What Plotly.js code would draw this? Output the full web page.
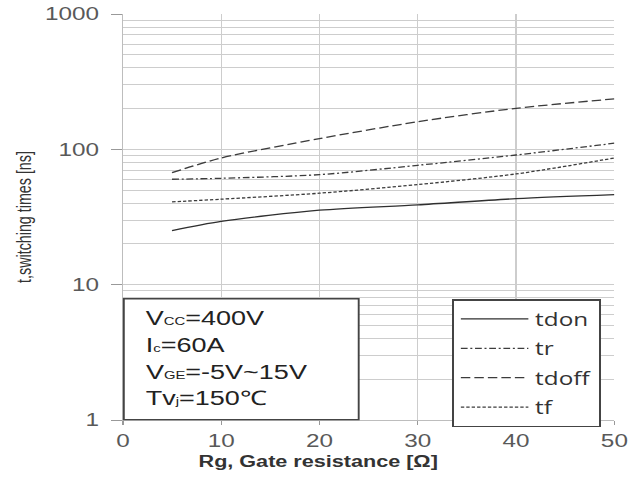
<!DOCTYPE html>
<html>
<head>
<meta charset="utf-8">
<script src="https://cdn.plot.ly/plotly-3.0.1.min.js"></script>
<style>
  html, body { margin: 0; padding: 0; background: #ffffff; }
  #wrap { width: 636px; height: 478px; overflow: hidden; position: relative; }
  /* the chart is laid out narrow and widened so the lettering comes out broad */
  #chart { width: 471px; height: 478px; transform: scaleX(1.3503); transform-origin: 0 0; }
</style>
</head>
<body>
<div id="wrap"><div id="chart"></div></div>
<script>
// Gate resistance [Ω]
const rg = [5, 10, 20, 30, 40, 50];
// switching times [ns]
const tdon  = [25.1, 29.3, 35.5, 38.9, 43.2, 46.3];
const tr    = [60.1, 61.1, 65.0, 76.2, 90.8, 111];
const tdoff = [67.2, 86.3, 120, 160, 201, 236];
const tf    = [40.9, 42.8, 47.4, 54.9, 65.8, 86.3];

const seriesNames = ['tdon', 'tr', 'tdoff', 'tf'];
const xTicks = [0, 10, 20, 30, 40, 50];
const yTicks = [1, 10, 100, 1000];
const yTickText = ['1', '10', '100', '1000'];

// small index letters sit on the baseline
const idx = s => '<span style="font-size:11px">' + s + '</span>';
const conditions = [
  'V' + idx('CC') + '=400V',
  'I' + idx('c') + '=60A',
  'V' + idx('GE') + '=-5V~15V',
  'Tv' + idx('j') + '=150℃'
];

const minorVals = [];
[1, 10, 100].forEach(d => { for (let k = 2; k <= 9; k++) minorVals.push(k * d); });

const grid = '#cdcdcd';
const sans = 'Liberation Sans, Arial, sans-serif';

const dashes = ['solid', '5px,2px,1.5px,2px', '7px,3px', '2.5px,1.5px'];
const colors = ['#2f2f2f', '#3c3c3c', '#3c3c3c', '#3c3c3c'];
const values = [tdon, tr, tdoff, tf];

const traces = values.map((v, i) => ({
  type: 'scatter', mode: 'lines',
  x: rg, y: v, name: seriesNames[i], legendgroup: seriesNames[i],
  line: { color: colors[i], width: 1.3, dash: dashes[i], shape: 'spline', smoothing: 0.8 }
}));

const L = 91.1, R = 16.2, T = 13.5, B = 57.5;
const W = 471, H = 478;
const pw = W - L - R, ph = H - T - B;
// pixel (in the 471-wide layout) -> paper fraction
const px = xp => (xp - L) / pw;
const py = yp => (H - B - yp) / ph;

const annotations = conditions.map((t, i) => ({
  xref: 'paper', yref: 'paper', x: px(105.6), y: py([318.5, 345.3, 372, 398.8][i]),
  xanchor: 'left', yanchor: 'middle', showarrow: false, text: t,
  font: { family: sans, size: 20, color: '#222' }
}));
annotations.push({
  xref: 'paper', yref: 'paper', x: px(235.5), y: py(462),
  xanchor: 'center', yanchor: 'middle', showarrow: false,
  text: '<b>Rg, Gate resistance [Ω]</b>',
  font: { family: sans, size: 16, color: '#333' }
});

const layout = {
  width: W, height: H,
  margin: { l: L, r: R, t: T, b: B, pad: 0 },
  paper_bgcolor: '#ffffff', plot_bgcolor: '#ffffff',
  showlegend: true,
  legend: {
    x: px(334.8), y: py(299.5), xanchor: 'left', yanchor: 'top',
    bgcolor: '#ffffff', bordercolor: '#444', borderwidth: 1.4,
    font: { family: 'Open Sans, sans-serif', size: 18, color: '#333' },
    tracegroupgap: 3, traceorder: 'grouped',
    itemwidth: 50,
    entrywidth: 123, entrywidthmode: 'pixels'
  },
  xaxis: {
    range: [0, 50], tickvals: xTicks, ticktext: xTicks.map(String),
    showgrid: true, gridcolor: grid, gridwidth: 1, zeroline: false,
    showline: true, linecolor: '#bdbdbd', linewidth: 1,
    ticks: 'outside', ticklen: 4, tickcolor: '#999',
    tickfont: { family: sans, size: 18, color: '#595959' },
    fixedrange: true
  },
  yaxis: {
    type: 'log', range: [0, 3], tickvals: yTicks, ticktext: yTickText,
    showgrid: true, gridcolor: grid, gridwidth: 1, zeroline: false,
    showline: true, linecolor: '#bdbdbd', linewidth: 1,
    ticks: 'outside', ticklen: 8, tickcolor: '#999', ticklabelstandoff: 5,
    tickfont: { family: sans, size: 18, color: '#595959' },
    minor: { tickvals: minorVals, showgrid: true, gridcolor: grid, gridwidth: 1, ticks: '' },
    title: { text: 't,switching times [ns]', standoff: 6, font: { family: 'Liberation Sans Narrow, Liberation Sans, sans-serif', size: 14.3, color: '#333' } },
    fixedrange: true
  },
  shapes: [{
    type: 'rect', xref: 'paper', yref: 'paper',
    x0: px(91.8), x1: px(265.6), y0: 0.001, y1: py(299),
    fillcolor: '#ffffff', line: { color: '#444', width: 1.4 }, layer: 'above'
  }],
  annotations: annotations
};

Plotly.newPlot('chart', traces, layout, { displayModeBar: false, staticPlot: true });
</script>
</body>
</html>
